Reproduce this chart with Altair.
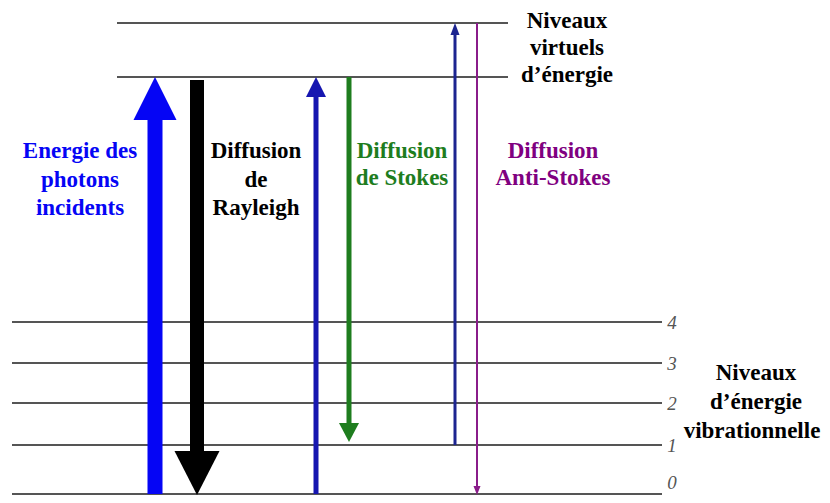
import altair as alt
import pandas as pd

# ---- data -------------------------------------------------------------
# vibrational levels (energy units on the vertical axis)
vib_levels = [0, 49, 91, 131, 172]
vib_names = ["0", "1", "2", "3", "4"]
# virtual levels
virtual_levels = [417, 471]

# transitions (arrows)
arrow_names = ["incident", "rayleigh", "stokes_up", "stokes_down", "antistokes_up", "antistokes_down"]
arrow_x = [155, 197, 316, 349, 455, 477]
arrow_from = [0, 414, 0, 417, 49, 471]
arrow_to = [417, -1, 417, 52, 471, -1]

# labels
label_lines = [
    "Energie des", "photons", "incidents",
    "Diffusion", "de", "Rayleigh",
    "Diffusion", "de Stokes",
    "Diffusion", "Anti-Stokes",
    "Niveaux", "virtuels", "d\u2019énergie",
    "Niveaux", "d\u2019énergie", "vibrationnelle",
]
label_x = [80, 80, 80, 256, 256, 256, 402, 402, 553, 553, 567, 567, 567, 756, 756, 752]
label_y = [336, 307, 279, 336, 307, 279, 336, 309, 336, 309, 466, 439, 412, 114, 85, 56]
label_group = ["incident"] * 3 + ["rayleigh"] * 3 + ["stokes"] * 2 + ["antistokes"] * 2 + ["title"] * 6

# ---- styles -----------------------------------------------------------
arrow_color = {
    "incident": "#0505f5", "rayleigh": "#000000", "stokes_up": "#1616b0",
    "stokes_down": "#1e7d1e", "antistokes_up": "#1c2490", "antistokes_down": "#8a1c8a",
}
shaft_w = {"incident": 15, "rayleigh": 14, "stokes_up": 5, "stokes_down": 5,
           "antistokes_up": 3, "antistokes_down": 2}
head_w = {"incident": 43, "rayleigh": 45, "stokes_up": 20, "stokes_down": 20,
          "antistokes_up": 9, "antistokes_down": 7}
head_len = {"incident": 43, "rayleigh": 44, "stokes_up": 20, "stokes_down": 19,
            "antistokes_up": 12, "antistokes_down": 9}
label_color = {"incident": "#0505f5", "rayleigh": "#000000", "stokes": "#1e7d1e",
               "antistokes": "#800080", "title": "#000000"}

# ---- tables -----------------------------------------------------------
levels = pd.DataFrame(
    [{"y": v, "x": 12, "x2": 662} for v in vib_levels]
    + [{"y": v, "x": 117, "x2": 508} for v in virtual_levels]
)
digits = pd.DataFrame({"y": [11 if v == 0 else v - 1 for v in vib_levels], "t": vib_names})

shafts, heads = [], []
for n, x, a, b in zip(arrow_names, arrow_x, arrow_from, arrow_to):
    s = 1 if b > a else -1
    L, W = head_len[n], head_w[n]
    k = W / L
    shafts.append({"x": x, "y": a, "y2": b - s * (L - 1), "c": arrow_color[n], "w": shaft_w[n]})
    path = f"M{-k},1L0,-1L{k},1Z" if s > 0 else f"M{-k},-1L0,1L{k},-1Z"
    heads.append({"x": x, "y": b - s * L / 2, "path": path, "size": L * L, "c": arrow_color[n]})
shafts = pd.DataFrame(shafts)
heads = pd.DataFrame(heads)

labels = pd.DataFrame({"t": label_lines, "x": label_x, "y": label_y,
                       "c": [label_color[g] for g in label_group]})

# ---- chart ------------------------------------------------------------
xs = alt.Scale(domain=[8, 822], nice=False, zero=False)
ys = alt.Scale(domain=[-1, 486], nice=False, zero=False)
X = lambda f="x": alt.X(f"{f}:Q", scale=xs, axis=None)
Y = lambda f="y": alt.Y(f"{f}:Q", scale=ys, axis=None)

lvl = alt.Chart(levels).mark_rule(color="#555555", strokeWidth=2).encode(
    x=X(), x2="x2:Q", y=Y())

dig = alt.Chart(digits).mark_text(font="Liberation Serif", fontStyle="italic", fontSize=19,
                                  color="#555555", align="center", baseline="middle").encode(
    x=alt.value(664), y=Y(), text="t:N")

sh = alt.Chart(shafts).mark_rule(strokeCap="butt").encode(
    x=X(), y=Y(), y2="y2:Q",
    color=alt.Color("c:N", scale=None),
    strokeWidth=alt.StrokeWidth("w:Q", scale=None))

hd = alt.Chart(heads).mark_point(filled=True, opacity=1, strokeWidth=0).encode(
    x=X(), y=Y(),
    shape=alt.Shape("path:N", scale=None),
    size=alt.Size("size:Q", scale=None),
    color=alt.Color("c:N", scale=None))

txt = alt.Chart(labels).mark_text(font="Liberation Serif", fontWeight="bold", fontSize=23,
                                  align="center", baseline="alphabetic").encode(
    x=X(), y=Y(), text="t:N", color=alt.Color("c:N", scale=None))

chart = alt.layer(lvl, dig, sh, hd, txt).properties(
    width=814, height=487, padding=0, autosize=alt.AutoSizeParams(type="none")
).configure_view(stroke=None)

chart.save("out.html", embed_options={"renderer": "svg", "actions": False})
